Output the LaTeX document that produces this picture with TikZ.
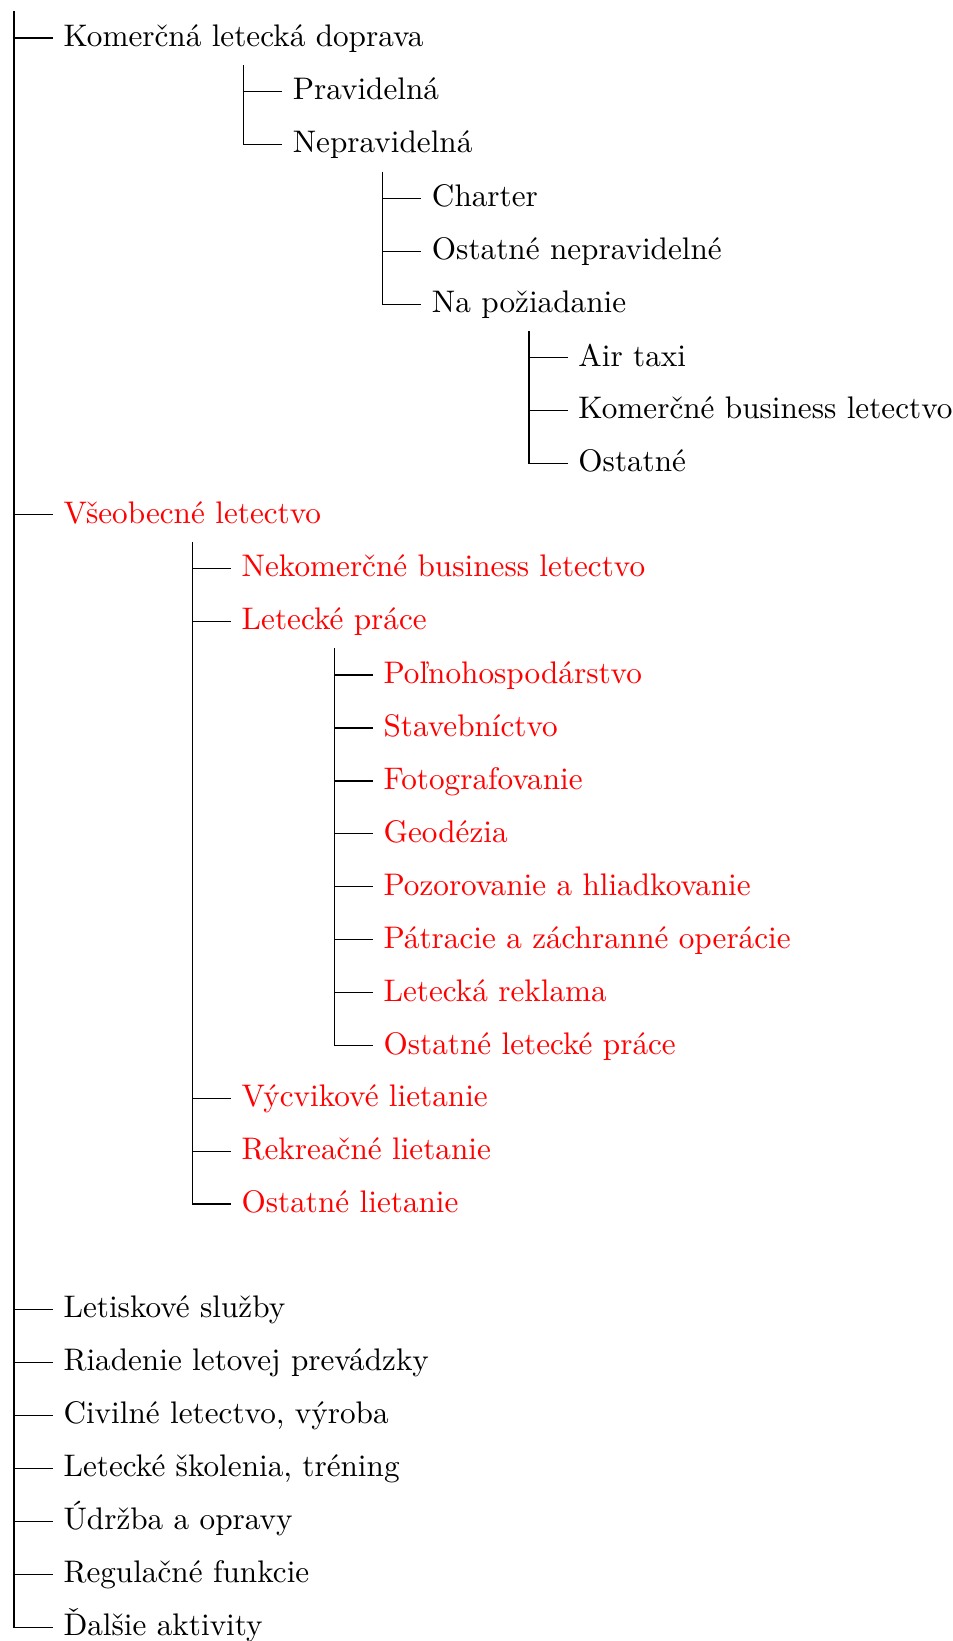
\documentclass[tikz,border=0pt]{standalone}
\usepackage{fontspec}
\usetikzlibrary{positioning}
\newcommand{\treestep}{17.2pt}
\tikzset{
  entry/.style={anchor=west, font=\fontsize{10.13pt}{12pt}\selectfont,
    minimum height=\treestep, text height=1.5ex, text depth=.25ex},
  gaentry/.style={entry, text=red}
}

\begin{document}
\begin{tikzpicture}
  \useasboundingbox (0,0) rectangle (309.1pt,-532.8pt);
  \coordinate (root) at (4.55pt,-3.57pt);

  % komercna letecka doprava
  \node[entry] (kom) at (17.1pt,-12.34pt) {Komerčná letecká doprava};
  \node[entry, right=12.5pt of kom.south, yshift=-0.5*\treestep] (pra) {Pravidelná};
  \node[entry, yshift=-\treestep] (nep) at (pra.west) {Nepravidelná};
  \node[entry, right=12.5pt of nep.south, yshift=-0.5*\treestep] (cha) {Charter};
  \node[entry, yshift=-\treestep] (ostn) at (cha.west) {Ostatné nepravidelné};
  \node[entry, yshift=-\treestep] (napo) at (ostn.west) {Na požiadanie};
  \node[entry, right=12.5pt of napo.south, yshift=-0.5*\treestep] (air) {Air taxi};
  \node[entry, yshift=-\treestep] (kbl) at (air.west) {Komerčné business letectvo};
  \node[entry, yshift=-\treestep] (ost) at (kbl.west) {Ostatné};

  % vseobecne letectvo
  \node[gaentry, yshift=-9*\treestep] (vse) at (kom.west) {Všeobecné letectvo};
  \node[gaentry, right=12.5pt of vse.south, yshift=-0.5*\treestep] (nbl) {Nekomerčné business letectvo};
  \node[gaentry, yshift=-\treestep] (lp) at (nbl.west) {Letecké práce};
  \node[gaentry, right=12.5pt of lp.south, yshift=-0.5*\treestep] (pol) {Poľnohospodárstvo};
  \node[gaentry, yshift=-\treestep] (sta) at (pol.west) {Stavebníctvo};
  \node[gaentry, yshift=-\treestep] (fot) at (sta.west) {Fotografovanie};
  \node[gaentry, yshift=-\treestep] (geo) at (fot.west) {Geodézia};
  \node[gaentry, yshift=-\treestep] (poz) at (geo.west) {Pozorovanie a hliadkovanie};
  \node[gaentry, yshift=-\treestep] (pat) at (poz.west) {Pátracie a záchranné operácie};
  \node[gaentry, yshift=-\treestep] (rek) at (pat.west) {Letecká reklama};
  \node[gaentry, yshift=-\treestep] (olp) at (rek.west) {Ostatné letecké práce};
  \node[gaentry, yshift=-9*\treestep] (vyc) at (lp.west) {Výcvikové lietanie};
  \node[gaentry, yshift=-\treestep] (rekl) at (vyc.west) {Rekreačné lietanie};
  \node[gaentry, yshift=-\treestep] (ol) at (rekl.west) {Ostatné lietanie};

  % dalsie oblasti
  \node[entry, yshift=-15*\treestep] (let) at (vse.west) {Letiskové služby};
  \node[entry, yshift=-\treestep] (ria) at (let.west) {Riadenie letovej prevádzky};
  \node[entry, yshift=-\treestep] (civ) at (ria.west) {Civilné letectvo, výroba};
  \node[entry, yshift=-\treestep] (sko) at (civ.west) {Letecké školenia, tréning};
  \node[entry, yshift=-\treestep] (udr) at (sko.west) {Údržba a opravy};
  \node[entry, yshift=-\treestep] (reg) at (udr.west) {Regulačné funkcie};
  \node[entry, yshift=-\treestep] (dal) at (reg.west) {Ďalšie aktivity};

  \draw (root) |- (kom.west) (root) |- (vse.west) (root) |- (let.west)
    (root) |- (ria.west) (root) |- (civ.west) (root) |- (sko.west)
    (root) |- (udr.west) (root) |- (reg.west) (root) |- (dal.west);
  \draw (kom.south) |- (pra.west) (kom.south) |- (nep.west);
  \draw (nep.south) |- (cha.west) (nep.south) |- (ostn.west) (nep.south) |- (napo.west);
  \draw (napo.south) |- (air.west) (napo.south) |- (kbl.west) (napo.south) |- (ost.west);
  \draw (vse.south) |- (nbl.west) (vse.south) |- (lp.west) (vse.south) |- (vyc.west)
    (vse.south) |- (rekl.west) (vse.south) |- (ol.west);
  \draw (lp.south) |- (pol.west) (lp.south) |- (sta.west) (lp.south) |- (fot.west)
    (lp.south) |- (geo.west) (lp.south) |- (poz.west) (lp.south) |- (pat.west)
    (lp.south) |- (rek.west) (lp.south) |- (olp.west);
\end{tikzpicture}
\end{document}
